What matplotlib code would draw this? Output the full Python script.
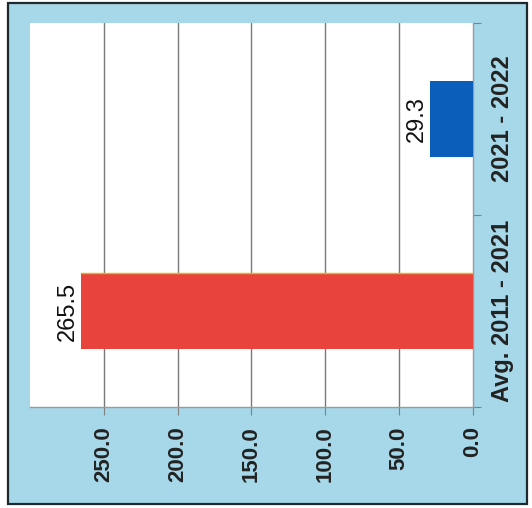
import matplotlib
matplotlib.use("Agg")
import matplotlib.pyplot as plt
from matplotlib.patches import Rectangle

# Data
categories = ["Avg. 2011 - 2021", "2021 - 2022"]
values = [265.5, 29.3]
bar_colors = ["#E8433D", "#0B5FBA"]
value_ticks = [0, 50, 100, 150, 200, 250]
value_tick_labels = ["0.0", "50.0", "100.0", "150.0", "200.0", "250.0"]
value_labels = ["265.5", "29.3"]

W, H = 532, 508
fig = plt.figure(figsize=(W / 100, H / 100), dpi=100)
fig.patch.set_facecolor("white")

# Outer light-blue panel with dark frame
panel = Rectangle((8 / W, 1 - 504 / H), (527 - 8) / W, (504 - 3) / H,
                  transform=fig.transFigure, facecolor="#A6D8E9",
                  edgecolor="#1E2A30", linewidth=1.6, zorder=-10)
fig.patches.append(panel)

left, right, top, bottom = 30, 473, 23, 407
ax = fig.add_axes([left / W, 1 - bottom / H, (right - left) / W, (bottom - top) / H])
ax.set_zorder(1)
ax.set_facecolor("white")

pos = list(range(len(categories)))
bars = ax.barh(pos, values, height=0.40, color=bar_colors, zorder=3)

# thin yellow rim along the upper edge of the first bar
ax.plot([0, values[0]], [pos[0] + 0.20, pos[0] + 0.20], color="#D2BE10",
        lw=1.0, zorder=4, solid_capstyle="butt")

ax.set_xlim(300, 0)
ax.set_ylim(-0.5, len(categories) - 0.5)

ax.set_xticks(value_ticks)
ax.set_xticklabels(value_tick_labels, rotation=90, fontsize=16,
                   fontweight="bold", family="Liberation Sans", color="#222222")
ax.tick_params(axis="x", direction="out", length=6, width=0.8, color="#808080", pad=8)

ax.yaxis.tick_right()
ax.set_yticks(pos)
ax.set_yticklabels(categories, rotation=90, fontsize=17, fontweight="bold",
                   family="Liberation Sans", color="#222222", va="center")
ax.tick_params(axis="y", which="major", length=0, pad=13)
ax.set_yticks([-0.5, 0.5, 1.5], minor=True)
ax.tick_params(axis="y", which="minor", direction="out", length=6, width=0.8, color="#808080")

for v in value_ticks[1:]:
    ax.axvline(v, color="#7A7A7A", lw=1.0, zorder=1)

for s in ["left", "top"]:
    ax.spines[s].set_visible(False)
for s in ["right", "bottom"]:
    ax.spines[s].set_color("#9A9A9A")
    ax.spines[s].set_linewidth(1.0)

for p, v, lab in zip(pos, values, value_labels):
    ax.annotate(lab, xy=(v, p), xytext=(-2, 0), textcoords="offset pixels",
                rotation=90, ha="right", va="center", fontsize=17,
                family="Liberation Sans", color="#111111", zorder=5)

fig.savefig("out.png", dpi=100)
